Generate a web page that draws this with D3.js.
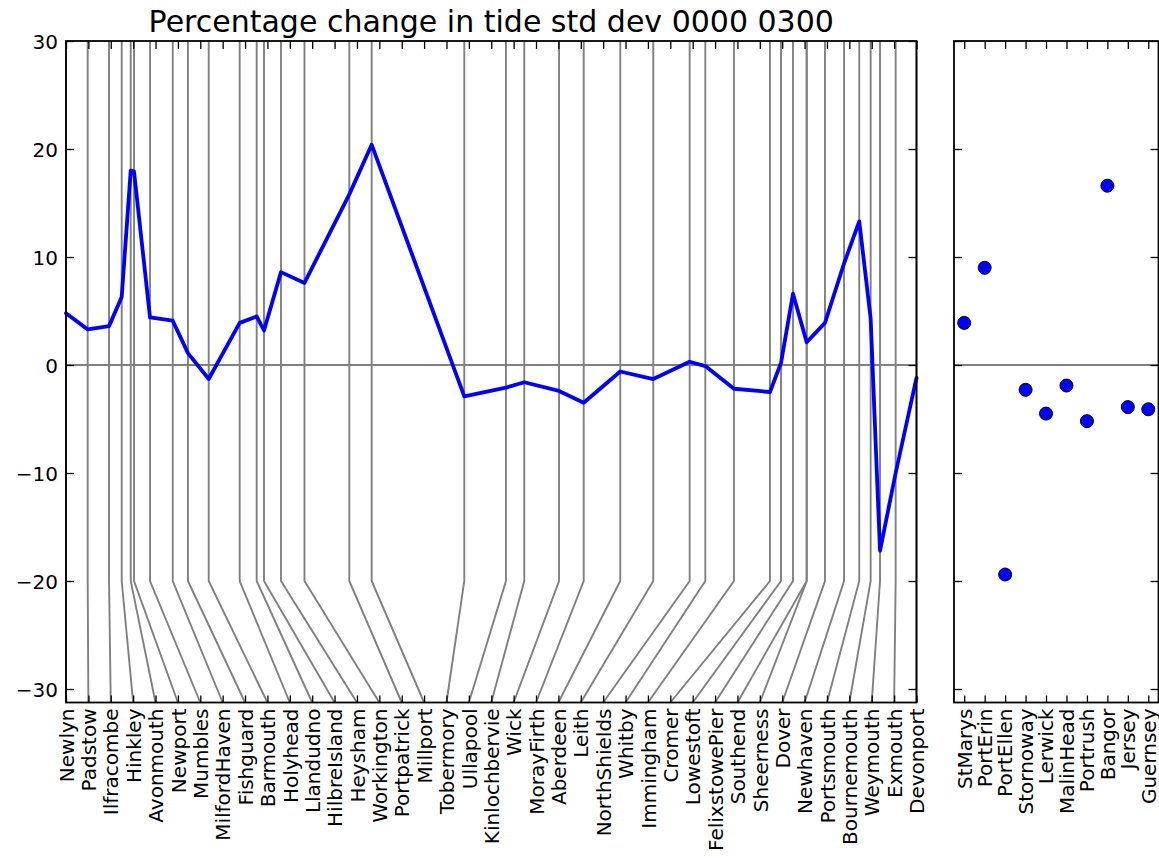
<!DOCTYPE html>
<html>
<head>
<meta charset="utf-8">
<script src="https://d3js.org/d3.v7.min.js"></script>
<style>
  html, body { margin: 0; padding: 0; background: #fff; }
  svg { display: block; font-family: "DejaVu Sans", sans-serif; }
</style>
</head>
<body>
<svg id="chart" width="1159" height="858"></svg>
<script>
// ---------------- data ----------------
const title = "Percentage change in tide std dev 0000 0300";

const coastStations = ["Newlyn","Padstow","Ilfracombe","Hinkley","Avonmouth","Newport","Mumbles",
  "MilfordHaven","Fishguard","Barmouth","Holyhead","Llandudno","HilbreIsland","Heysham","Workington",
  "Portpatrick","Millport","Tobermory","Ullapool","Kinlochbervie","Wick","MorayFirth","Aberdeen","Leith",
  "NorthShields","Whitby","Immingham","Cromer","Lowestoft","FelixstowePier","Southend","Sheerness","Dover",
  "Newhaven","Portsmouth","Bournemouth","Weymouth","Exmouth","Devonport"];

// relative distance along the coastline (0 = Newlyn, 1000 = Devonport)
const coastDistance = [0, 25.5, 50.6, 65.5, 76.1, 80.0, 98.8,
  125.5, 143.4, 167.8, 204.2, 224.2, 232.8, 252.8, 280.4,
  333.1, 359.4, 468.3, 517.3, 538.8, 579.7, 608.7, 651.7, 690.5,
  733.3, 751.7, 785.4, 827.7, 840.7, 854.8, 870.9, 870.9, 892.4,
  914.8, 932.7, 946.1, 957.1, 975.5, 1000];

const coastChange = [4.8, 3.3, 3.6, 6.3, 18.0, 17.9, 4.4,
  4.1, 1.1, -1.3, 3.9, 4.5, 3.2, 8.6, 7.6,
  15.8, 20.4, -2.9, -2.1, -1.6, -2.4, -3.5, -0.6, -1.3,
  0.3, -0.1, -2.2, -2.5, 0.2, 6.6, 2.1, 2.1, 3.9,
  9.4, 13.3, 4.3, -17.2, -10.0, -1.2];

const islandStations = ["StMarys","PortErin","PortEllen","Stornoway","Lerwick","MalinHead",
  "Portrush","Bangor","Jersey","Guernsey"];
const islandChange = [3.9, 9.0, -19.4, -2.3, -4.5, -1.9, -5.2, 16.6, -3.9, -4.1];

const yTicks = [-30, -20, -10, 0, 10, 20, 30];
const yDomain = [-31.25, 30];

// ---------------- layout ----------------
const svg = d3.select("#chart");
const plotTop = 41, plotBottom = 702.5;
const L = {left: 66, right: 916.5};
const R = {left: 954, right: 1158.5};
const gray = "#808080";
const fontSize = 20;

const y = d3.scaleLinear().domain(yDomain).range([plotBottom, plotTop]);
const xDist = d3.scaleLinear().domain([0, 1000]).range([L.left, L.right]);
const xLab = d3.scaleLinear().domain([0, coastStations.length - 1]).range([L.left, L.right]);
const xIsl = d3.scaleLinear().domain([-0.5, islandStations.length - 0.5]).range([R.left, R.right]);

svg.append("rect").attr("width", 1159).attr("height", 858).attr("fill", "#fff");

// title
svg.append("text").attr("x", (L.left + L.right) / 2).attr("y", 31.5)
  .attr("text-anchor", "middle").style("font-size", "30px").text(title);

// ---------- left panel ----------
const gL = svg.append("g");

// connector lines
const idx = d3.range(coastStations.length);
gL.selectAll("path.conn").data(idx).join("path")
  .attr("class", "conn")
  .attr("fill", "none").attr("stroke", gray).attr("stroke-width", 1.9)
  .attr("d", i => `M${xDist(coastDistance[i])},${y(30)}L${xDist(coastDistance[i])},${y(-20)}L${xLab(i)},${y(yDomain[0])}`);

// zero line
gL.append("line").attr("x1", L.left).attr("x2", L.right).attr("y1", y(0)).attr("y2", y(0))
  .attr("stroke", gray).attr("stroke-width", 2.2);

// data line
const line = d3.line().x(i => xDist(coastDistance[i])).y(i => y(coastChange[i]));
gL.append("path").datum(idx).attr("d", line)
  .attr("fill", "none").attr("stroke", "#0000ff").attr("stroke-width", 3.8)
  .attr("stroke-linejoin", "round").attr("stroke-linecap", "round");

function styleAxis(g) {
  g.select(".domain").remove();
  g.selectAll(".tick line").attr("stroke", "#000").attr("stroke-width", 1.3);
  g.selectAll("text").style("font-size", fontSize + "px").style("font-family", "DejaVu Sans").attr("fill", "#000");
}

// y axis left (labels) and right (ticks only)
gL.append("g").attr("transform", `translate(${L.left},0)`)
  .call(d3.axisLeft(y).tickValues(yTicks).tickSize(-8).tickPadding(8).tickFormat(d3.format("d")))
  .call(styleAxis)
  .call(g => g.selectAll("text").attr("dy", "0.36em"));
gL.append("g").attr("transform", `translate(${L.right},0)`)
  .call(d3.axisRight(y).tickValues(yTicks).tickSize(-8).tickFormat(""))
  .call(styleAxis);

// x axis bottom with rotated labels, top ticks only
gL.append("g").attr("transform", `translate(0,${plotBottom})`)
  .call(d3.axisBottom(xLab).tickValues(idx).tickSize(-7).tickFormat(i => coastStations[i]))
  .call(styleAxis)
  .call(g => g.selectAll("text")
    .attr("y", 0).attr("x", -6).attr("dy", "0.36em")
    .attr("transform", "rotate(-90)").style("text-anchor", "end"));
gL.append("g").attr("transform", `translate(0,${plotTop})`)
  .call(d3.axisTop(xLab).tickValues(idx).tickSize(-8).tickFormat(""))
  .call(styleAxis);

gL.append("rect").attr("x", L.left).attr("y", plotTop).attr("width", L.right - L.left).attr("height", plotBottom - plotTop)
  .attr("fill", "none").attr("stroke", "#000").attr("stroke-width", 1.8);

// ---------- right panel ----------
const gR = svg.append("g");
gR.append("line").attr("x1", R.left).attr("x2", R.right).attr("y1", y(0)).attr("y2", y(0))
  .attr("stroke", gray).attr("stroke-width", 2.2);

const iidx = d3.range(islandStations.length);
gR.selectAll("circle").data(iidx).join("circle")
  .attr("cx", i => xIsl(i)).attr("cy", i => y(islandChange[i])).attr("r", 6.5)
  .attr("fill", "#0000ff").attr("stroke", "#000").attr("stroke-width", 1);

gR.append("g").attr("transform", `translate(${R.left},0)`)
  .call(d3.axisLeft(y).tickValues(yTicks).tickSize(-8).tickFormat(""))
  .call(styleAxis);
gR.append("g").attr("transform", `translate(${R.right},0)`)
  .call(d3.axisRight(y).tickValues(yTicks).tickSize(-8).tickFormat(""))
  .call(styleAxis);
gR.append("g").attr("transform", `translate(0,${plotBottom})`)
  .call(d3.axisBottom(xIsl).tickValues(iidx).tickSize(-7).tickFormat(i => islandStations[i]))
  .call(styleAxis)
  .call(g => g.selectAll("text")
    .attr("y", 0).attr("x", -6).attr("dy", "0.34em")
    .attr("transform", "rotate(-90)").style("text-anchor", "end"));
gR.append("g").attr("transform", `translate(0,${plotTop})`)
  .call(d3.axisTop(xIsl).tickValues(iidx).tickSize(-8).tickFormat(""))
  .call(styleAxis);

gR.append("rect").attr("x", R.left).attr("y", plotTop).attr("width", R.right - R.left).attr("height", plotBottom - plotTop)
  .attr("fill", "none").attr("stroke", "#000").attr("stroke-width", 1.8);
</script>
</body>
</html>
